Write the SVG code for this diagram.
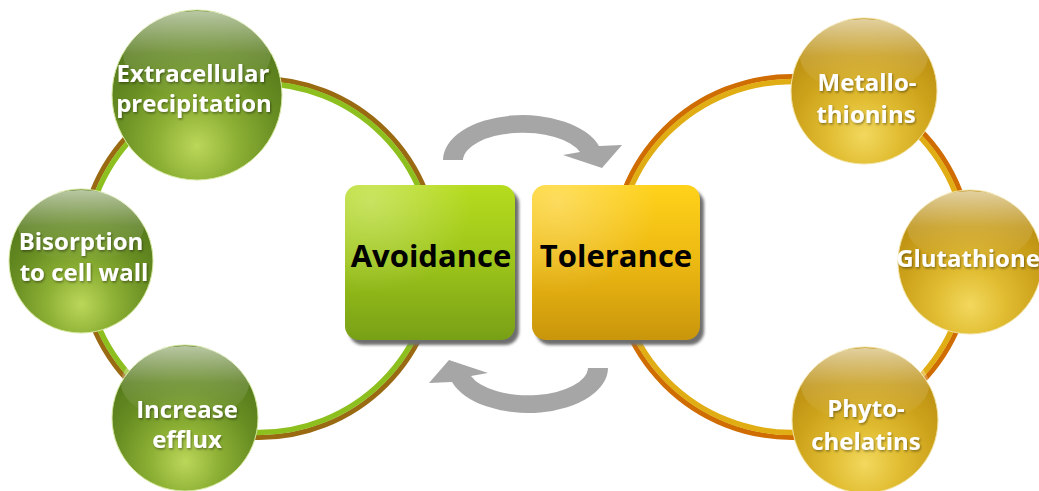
<svg xmlns="http://www.w3.org/2000/svg" xmlns:xlink="http://www.w3.org/1999/xlink" width="1039" height="491" viewBox="0 0 1039 491">
  <defs>
    <!-- glass spheres -->
    <radialGradient id="greenBall" cx="0.5" cy="0.8" r="0.75">
      <stop offset="0" stop-color="#bcd75a"/>
      <stop offset="0.32" stop-color="#8cb034"/>
      <stop offset="0.66" stop-color="#668c22"/>
      <stop offset="1" stop-color="#52761a"/>
    </radialGradient>
    <radialGradient id="goldBall" cx="0.5" cy="0.8" r="0.75">
      <stop offset="0" stop-color="#f2d85e"/>
      <stop offset="0.32" stop-color="#e1bd32"/>
      <stop offset="0.66" stop-color="#cca11a"/>
      <stop offset="1" stop-color="#b88c10"/>
    </radialGradient>
    <linearGradient id="gloss" x1="0" y1="0" x2="0" y2="1">
      <stop offset="0" stop-color="#ffffff" stop-opacity="0.6"/>
      <stop offset="0.5" stop-color="#ffffff" stop-opacity="0.15"/>
      <stop offset="1" stop-color="#ffffff" stop-opacity="0"/>
    </linearGradient>
    <!-- centre boxes -->
    <linearGradient id="greenBox" x1="0" y1="0" x2="0" y2="1">
      <stop offset="0" stop-color="#b6dc1e"/>
      <stop offset="0.5" stop-color="#9cc41a"/>
      <stop offset="1" stop-color="#78a016"/>
    </linearGradient>
    <linearGradient id="goldBox" x1="0" y1="0" x2="0" y2="1">
      <stop offset="0" stop-color="#ffd21a"/>
      <stop offset="0.5" stop-color="#ecb812"/>
      <stop offset="1" stop-color="#c9960c"/>
    </linearGradient>
    <radialGradient id="boxGloss" cx="0.15" cy="0.1" r="0.6">
      <stop offset="0" stop-color="#ffffff" stop-opacity="0.3"/>
      <stop offset="1" stop-color="#ffffff" stop-opacity="0"/>
    </radialGradient>
    <filter id="soft" x="-10%" y="-10%" width="120%" height="120%">
      <feGaussianBlur stdDeviation="1.6"/>
    </filter>
    <filter id="txtShadow" x="-10%" y="-30%" width="120%" height="160%">
      <feDropShadow dx="1" dy="1.5" stdDeviation="1.1" flood-color="#000000" flood-opacity="0.4"/>
    </filter>
  </defs>
  <style>
    .ball-text { font-family: "Open Sans", "Liberation Sans", sans-serif; font-weight: 700; font-size: 24px; fill: #ffffff; text-anchor: middle; }
    .box-text { font-family: "Open Sans", "Liberation Sans", sans-serif; font-weight: 700; font-size: 31px; fill: #000000; text-anchor: middle; }
    .ring { fill: none; }
    .arrow { fill: #a6a6a6; }
    .green-edge { stroke: #d6e8a0; stroke-width: 1; }
    .gold-edge { stroke: #f2e2a2; stroke-width: 1; }
  </style>

  <rect width="1039" height="491" fill="#ffffff"/>

  <!-- rings and cycle arrows -->
  <g id="connectors">
    <circle class="ring" cx="259" cy="258" r="179.5" stroke="#9a6a12" stroke-width="5"/>
    <circle class="ring" cx="259" cy="258" r="174.5" stroke="#8dc01e" stroke-width="5.5"/>
    <circle class="ring" cx="792" cy="257" r="180.5" stroke="#cf6c02" stroke-width="5"/>
    <circle class="ring" cx="792" cy="257" r="175.5" stroke="#e0ae14" stroke-width="5.5"/>
    <path id="cycleTop" class="arrow" d="M443,160 A80,45 0 0 1 599,146 L622,145 L602,168 L563,155 L580,152 A60,28 0 0 0 463,160 Z"/>
    <path id="cycleBottom" class="arrow" transform="rotate(180 525.5 264)" d="M443,160 A80,45 0 0 1 599,146 L622,145 L602,168 L563,155 L580,152 A60,28 0 0 0 463,160 Z"/>
  </g>

  <!-- Avoidance strategies -->
  <g id="extracellular">
    <circle class="green-edge" cx="197" cy="95" r="85" fill="url(#greenBall)"/>
    <ellipse cx="197" cy="54" rx="74" ry="43" fill="url(#gloss)"/>
    <g filter="url(#txtShadow)">
      <text class="ball-text" x="193" y="82">Extracellular</text>
      <text class="ball-text" x="194" y="112">precipitation</text>
    </g>
  </g>
  <g id="bisorption">
    <circle class="green-edge" cx="81" cy="261" r="72" fill="url(#greenBall)"/>
    <ellipse cx="81" cy="226" rx="63" ry="36" fill="url(#gloss)"/>
    <g filter="url(#txtShadow)">
      <text class="ball-text" x="81" y="250">Bisorption</text>
      <text class="ball-text" x="84" y="281">to cell wall</text>
    </g>
  </g>
  <g id="efflux">
    <circle class="green-edge" cx="185" cy="418" r="73" fill="url(#greenBall)"/>
    <ellipse cx="185" cy="383" rx="64" ry="37" fill="url(#gloss)"/>
    <g filter="url(#txtShadow)">
      <text class="ball-text" x="187" y="418">Increase</text>
      <text class="ball-text" x="187" y="448">efflux</text>
    </g>
  </g>

  <!-- Tolerance mechanisms -->
  <g id="metallothionins">
    <circle class="gold-edge" cx="864" cy="91" r="73" fill="url(#goldBall)"/>
    <ellipse cx="864" cy="56" rx="64" ry="37" fill="url(#gloss)"/>
    <g filter="url(#txtShadow)">
      <text class="ball-text" x="867" y="91">Metallo-</text>
      <text class="ball-text" x="866" y="123">thionins</text>
    </g>
  </g>
  <g id="glutathione">
    <circle class="gold-edge" cx="970" cy="262" r="72" fill="url(#goldBall)"/>
    <ellipse cx="970" cy="227" rx="63" ry="36" fill="url(#gloss)"/>
    <g filter="url(#txtShadow)">
      <text class="ball-text" x="968" y="267">Glutathione</text>
    </g>
  </g>
  <g id="phytochelatins">
    <circle class="gold-edge" cx="865" cy="420" r="73" fill="url(#goldBall)"/>
    <ellipse cx="865" cy="385" rx="64" ry="37" fill="url(#gloss)"/>
    <g filter="url(#txtShadow)">
      <text class="ball-text" x="866" y="417">Phyto-</text>
      <text class="ball-text" x="866" y="450">chelatins</text>
    </g>
  </g>

  <!-- centre boxes -->
  <g id="avoidance">
    <rect x="349" y="190" width="170" height="155" rx="14" fill="#6e6e6e" filter="url(#soft)"/>
    <rect x="345" y="185" width="170" height="155" rx="14" fill="url(#greenBox)"/>
    <rect x="345" y="185" width="170" height="155" rx="14" fill="url(#boxGloss)"/>
    <text class="box-text" x="431" y="267">Avoidance</text>
  </g>
  <g id="tolerance">
    <rect x="536" y="190" width="168" height="155" rx="14" fill="#6e6e6e" filter="url(#soft)"/>
    <rect x="532" y="185" width="168" height="155" rx="14" fill="url(#goldBox)"/>
    <rect x="532" y="185" width="168" height="155" rx="14" fill="url(#boxGloss)"/>
    <text class="box-text" x="616" y="267">Tolerance</text>
  </g>
</svg>
